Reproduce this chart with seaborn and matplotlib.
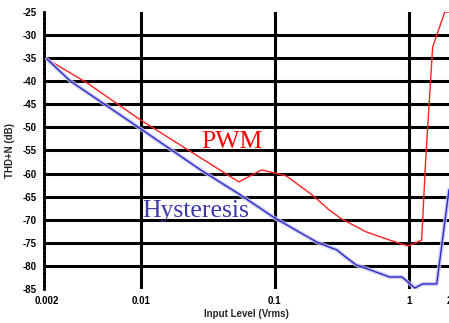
import numpy as np
import pandas as pd
import matplotlib
matplotlib.use('Agg')
import matplotlib.pyplot as plt
import seaborn as sns

# values
pwm_x = [0.002, 0.004, 0.01, 0.054, 0.08, 0.122, 0.19, 0.256, 0.315, 0.48, 0.72,
         0.97, 1.01, 1.25, 1.34, 1.51, 1.86, 2.0]
pwm_y = [-35.2, -40.4, -48.4, -61.8, -59.2, -60.5, -64.6, -67.9, -69.8, -72.6, -74.4,
         -75.6, -75.6, -74.4, -57.0, -32.6, -25.0, -25.0]

hyst_x = [0.002, 0.003, 0.01, 0.028, 0.054, 0.1, 0.205, 0.265, 0.29, 0.343, 0.407,
          0.51, 0.72, 0.89, 0.98, 1.11, 1.27, 1.62, 2.0]
hyst_y = [-35.2, -40.0, -50.3, -59.2, -64.4, -69.6, -74.8, -76.1, -76.5, -78.2, -79.8,
          -80.8, -82.4, -82.4, -83.4, -84.8, -83.9, -83.9, -63.5]

y_ticks = [-25, -30, -35, -40, -45, -50, -55, -60, -65, -70, -75, -80, -85]
x_ticks = [0.002, 0.01, 0.1, 1, 2]
x_labels = ['0.002', '0.01', '0.1', '1', '2']

sns.set_style('white')
plt.rcParams['font.family'] = ['Liberation Sans', 'DejaVu Sans']

fig = plt.figure(figsize=(4.49, 3.23), dpi=100)
ax = fig.add_axes([44 / 449, 1 - 289 / 323, 405 / 449, 277 / 323])

# grid lines (thick black)
for v in y_ticks[1:-1]:
    ax.axhline(v, color='black', lw=2.2, zorder=1)
for v in x_ticks[1:-1]:
    ax.axvline(v, color='black', lw=2.2, zorder=1)

pwm = pd.DataFrame({'x': pwm_x, 'y': pwm_y})
hyst = pd.DataFrame({'x': hyst_x, 'y': hyst_y})

sns.lineplot(data=pwm, x='x', y='y', ax=ax, color='#ff2020', lw=1.0,
             estimator=None, sort=False, zorder=3)
# blue curve with a soft halo
sns.lineplot(data=hyst, x='x', y='y', ax=ax, color='#c2c2f2', lw=3.0, alpha=0.8,
             estimator=None, sort=False, zorder=3)
sns.lineplot(data=hyst, x='x', y='y', ax=ax, color='#2a2ac8', lw=1.0,
             estimator=None, sort=False, zorder=4)

ax.set_xscale('log')
ax.set_xlim(0.0019, 2.0)
ax.set_ylim(-85, -25)
ax.set_xticks(x_ticks)
ax.set_xticklabels(x_labels)
ax.minorticks_off()
ax.set_yticks(y_ticks)
ax.set_yticklabels([str(v) for v in y_ticks])

for lbl in ax.get_xticklabels() + ax.get_yticklabels():
    lbl.set_fontweight('bold')
    lbl.set_fontsize(7)
ax.tick_params(axis='y', length=3, width=2, direction='out', pad=2, colors='black')
ax.tick_params(axis='x', length=0, pad=5, colors='black')

for side in ['top', 'right', 'bottom']:
    ax.spines[side].set_visible(False)
ax.spines['left'].set_color('black')
ax.spines['left'].set_linewidth(2)
ax.spines['left'].set_linestyle((0, (1, 0.5)))

ax.set_xlabel('Input Level (Vrms)', fontsize=7, fontweight='bold', labelpad=2)
ax.set_ylabel('THD+N (dB)', fontsize=7, fontweight='bold', labelpad=6)

ax.text(0.0282, -54.4, 'PWM', color='#ff0000', fontsize=18.5,
        family='Liberation Serif', va='baseline', ha='left', zorder=5)
ax.text(0.0102, -69.4, 'Hysteresis', color='#3a3aae', fontsize=18.5,
        family='Liberation Serif', va='baseline', ha='left', zorder=5)

fig.savefig('out.png', dpi=100)
